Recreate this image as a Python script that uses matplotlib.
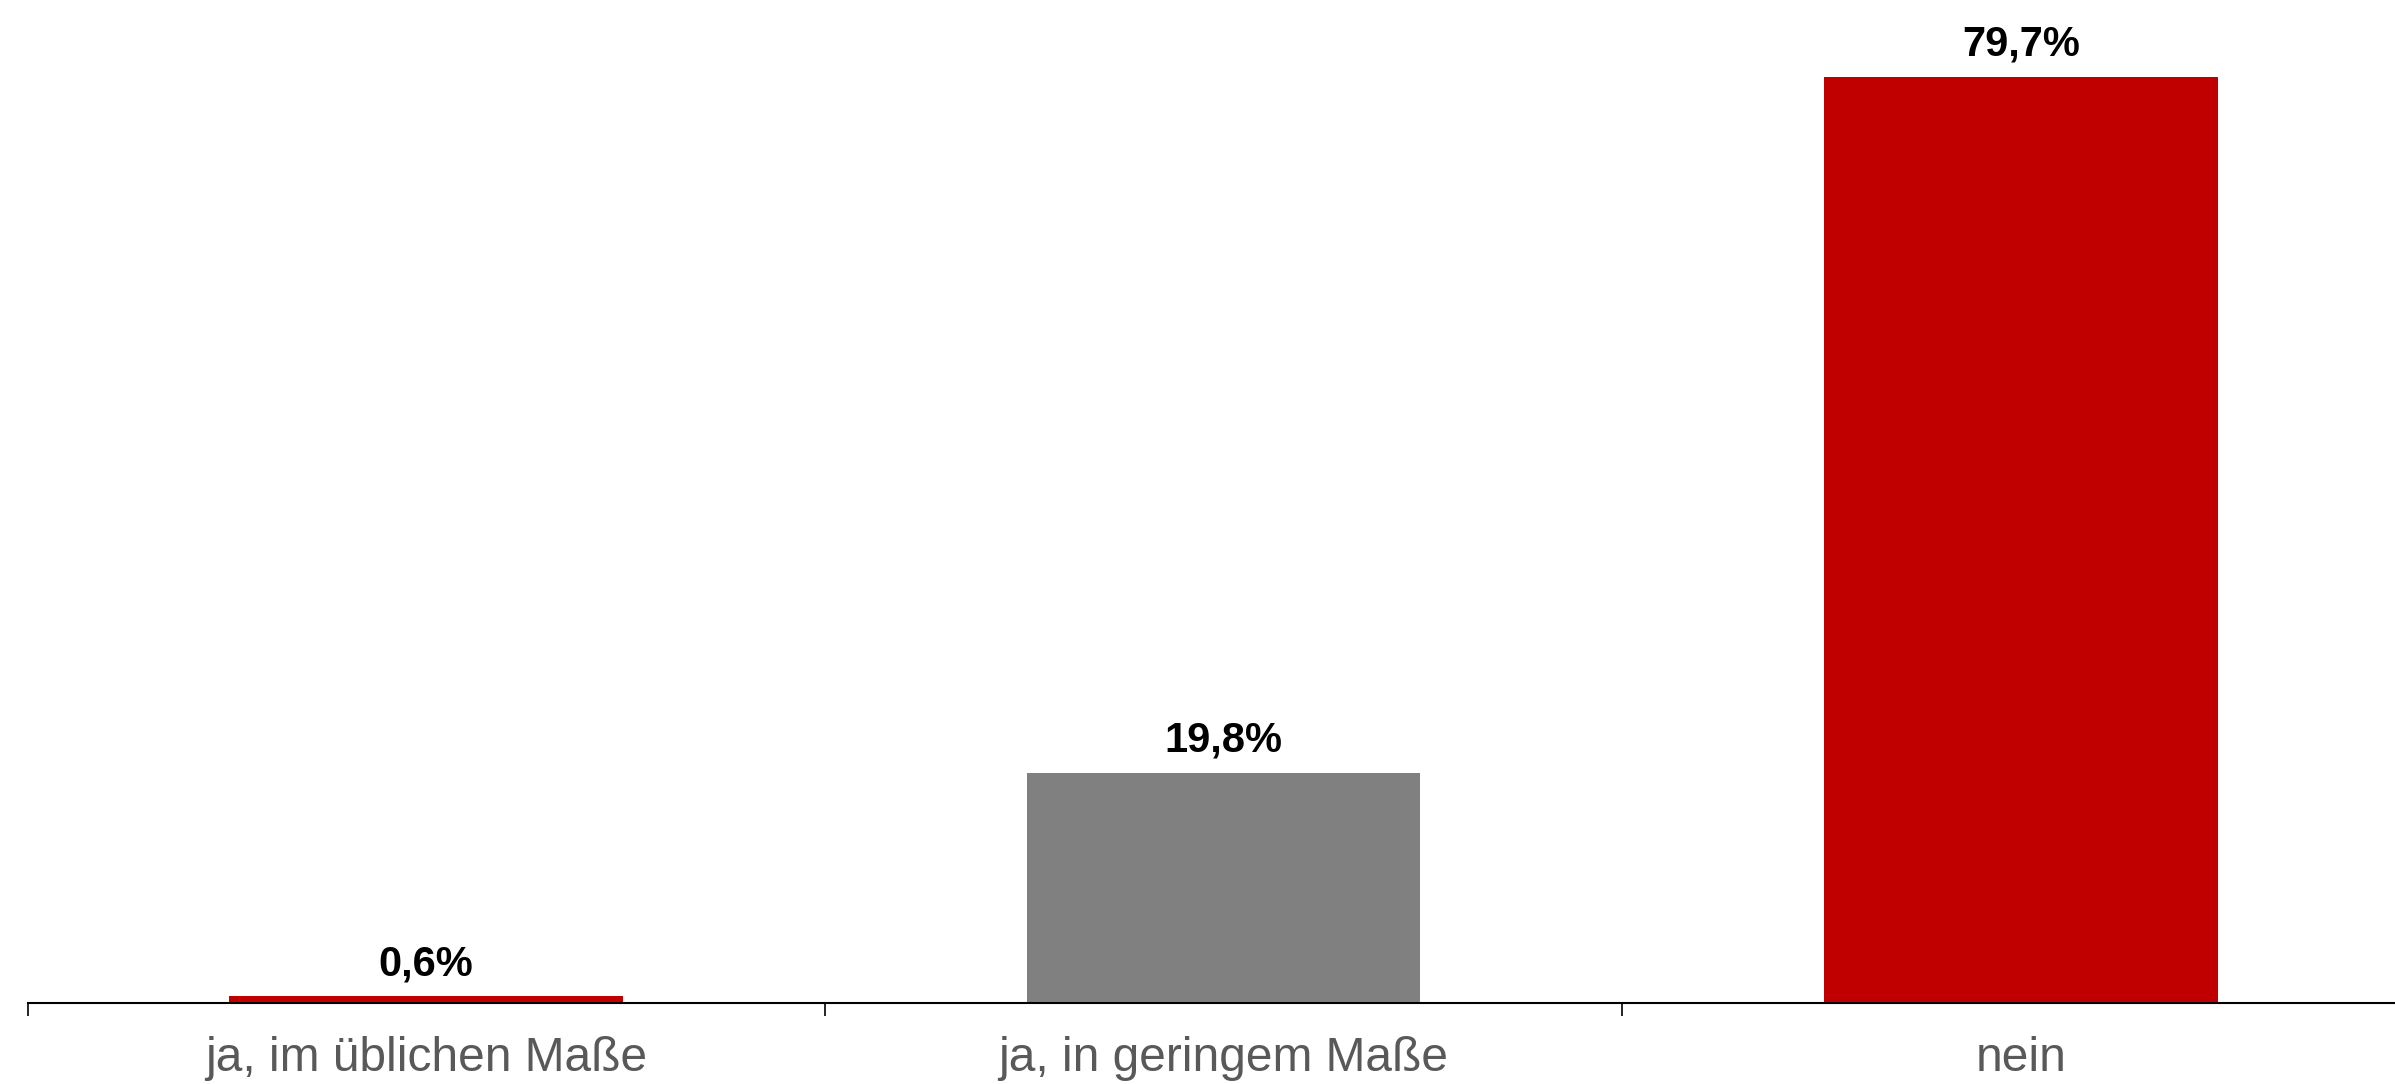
import numpy as np
import matplotlib.pyplot as plt

categories = ['ja, im üblichen Maße', 'ja, in geringem Maße', 'nein']
values = [0.6, 19.8, 79.7]
labels = ['0,6%', '19,8%', '79,7%']
colors = ['#C00000', '#808080', '#C00000']

plt.rcParams['font.family'] = ['Liberation Sans', 'DejaVu Sans']

fig = plt.figure(figsize=(23.95, 10.84), dpi=100)
ax = fig.add_axes([0.0115, 0.0748, 0.9987, 0.9252])

x = np.arange(len(categories))
bars = ax.bar(x, values, width=0.494, color=colors)

for xi, v, lab in zip(x, values, labels):
    ax.annotate(lab, (xi, v), xytext=(0, 15), textcoords='offset points',
                ha='center', va='baseline', fontsize=30, fontweight='bold', color='black')

ax.set_xlim(-0.5, 2.5)
ax.set_ylim(0, 86.3)

ax.set_xticks(x)
ax.set_xticklabels(categories, fontsize=34.5, color='#595959')
ax.set_xticks([-0.5, 0.5, 1.5, 2.5], minor=True)
ax.tick_params(axis='x', which='major', length=0, pad=24)
ax.tick_params(axis='x', which='minor', length=9, width=1.2, color='black')
ax.set_yticks([])

for side in ['top', 'right', 'left']:
    ax.spines[side].set_visible(False)
ax.spines['bottom'].set_linewidth(1.5)
ax.spines['bottom'].set_color('black')

fig.savefig('out.png', dpi=100)
